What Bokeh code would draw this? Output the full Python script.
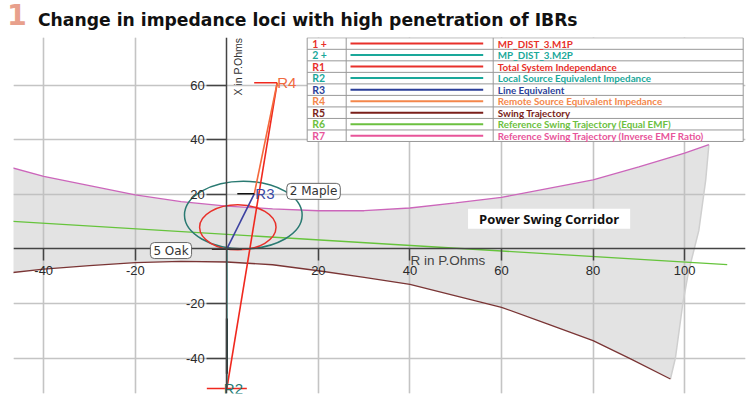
import math
from bokeh.plotting import figure
from bokeh.layouts import column
from bokeh.models import LinearAxis, FixedTicker, Label, Grid, Div
from bokeh.embed import file_html
from bokeh.resources import INLINE
from bokeh.core.properties import value

# ---------------- data ----------------
title_num = "1"
title_text = "Change in impedance loci with high penetration of IBRs"

x_ticks = [-40, -20, 20, 40, 60, 80, 100]
y_ticks = [-40, -20, 20, 40, 60]

# R7 - reference swing trajectory (inverse EMF ratio), upper corridor edge
r7_R = [-47, -40, -30, -20, -10, 0, 10, 20, 30, 40, 50, 60, 70, 80, 90, 100, 105.3]
r7_X = [29.8, 26.6, 23.2, 19.8, 17.3, 15.7, 14.7, 14.0, 14.0, 15.0, 16.9, 18.9, 22.1, 25.3, 30.1, 35.1, 38.2]

# R5 - swing trajectory, lower corridor edge
r5_R = [-47, -40, -30, -20, -10, 0, 10, 20, 30, 40, 50, 60, 70, 80, 88.2, 96.9]
r5_X = [-8.7, -7.4, -6.1, -5.0, -4.6, -4.8, -5.8, -8.0, -10.4, -13.0, -17.2, -21.4, -27.5, -33.6, -40.3, -47.7]

# right closing edge of the corridor (top -> bottom)
edge_R = [105.3, 104.6, 103.1, 100.9, 99.6, 98.0, 96.9]
edge_X = [38.2, 25.1, 6.7, -8.0, -20.1, -39.9, -47.7]

# R6 - reference swing trajectory (equal EMF)
r6_R = [-47, 109.3]
r6_X = [10.1, -5.76]

# zone circles (MP_DIST_3.M1P / M2P): centre R, centre X, width, height
m1_R, m1_X, m1_w, m1_h = 2.4, 7.9, 16.7, 16.5
m2_R, m2_X, m2_w, m2_h = 3.6, 12.4, 25.7, 24.8

# impedance points
origin = (0.0, 0.0)
R2_pt = (0.0, -51.2)
R3_pt = (6.0, 20.2)
R4_pt = (11.0, 60.9)
zone_seg_X = [-25.5, -45.8]

corridor_label = (70.4, 11.1)
maple_pt = (13.1, 21.1)
oak_pt = (-16.7, -0.6)

leg_codes = ["1 +", "2 +", "R1", "R2", "R3", "R4", "R5", "R6", "R7"]
leg_labels = ["MP_DIST_3.M1P", "MP_DIST_3.M2P", "Total System Independance",
              "Local Source Equivalent Impedance", "Line Equivalent",
              "Remote Source Equivalent Impedance", "Swing Trajectory",
              "Reference Swing Trajectory (Equal EMF)",
              "Reference Swing Trajectory (Inverse EMF Ratio)"]
leg_colors = ["#e8302a", "#1aa89a", "#e8302a", "#1aa89a", "#2b3f99",
              "#f4874b", "#7a1f1a", "#6cc040", "#e8559a"]

# ---------------- layout helpers (page px -> data) ----------------
X0, X1 = -46.6, 113.3
Y0, Y1 = -53.0, 77.5
FL, FR, FT, FB = 13, 745, 37, 393
HEAD = 30


def dx(px):
    return X0 + (px - FL) * (X1 - X0) / (FR - FL)


def dy(py):
    return Y1 - (py - FT) * (Y1 - Y0) / (FB - FT)


head = Div(width=753, height=HEAD, margin=(0, 0, 0, 0), text=(
    '<div style="position:relative;width:753px;height:30px;font-family:\'DejaVu Sans\';font-weight:bold;">'
    f'<span style="position:absolute;left:7px;top:2px;font-size:28.5px;line-height:1;color:#e8a08c;">{title_num}</span>'
    f'<span style="position:absolute;left:38px;top:11.5px;font-size:17.2px;line-height:1;color:#111;white-space:nowrap;">{title_text}</span>'
    '</div>'))

p = figure(width=753, height=412 - HEAD, x_range=(X0, X1), y_range=(Y0, Y1),
           output_backend="svg", toolbar_location=None,
           x_axis_location=None, y_axis_location=None,
           min_border_left=FL, min_border_right=753 - FR,
           min_border_top=FT - HEAD, min_border_bottom=412 - FB)
p.outline_line_color = None
p.background_fill_color = "white"

for dim, ticks in ((0, x_ticks), (1, y_ticks)):
    g = Grid(dimension=dim, ticker=FixedTicker(ticks=ticks))
    g.grid_line_color = "#c4c4c4"
    g.grid_line_width = 1.6
    p.add_layout(g)

xaxis = LinearAxis(fixed_location=0, ticker=FixedTicker(ticks=x_ticks))
yaxis = LinearAxis(fixed_location=0, ticker=FixedTicker(ticks=y_ticks))
for ax, ticks in ((xaxis, x_ticks), (yaxis, y_ticks)):
    ax.axis_line_color = "#444444"
    ax.axis_line_width = 1.5
    ax.major_tick_line_color = "#444444"
    ax.major_tick_line_width = 1.5
    ax.major_tick_in = 0
    ax.major_label_text_font = "Liberation Sans"
    ax.major_label_text_font_size = "13px"
    ax.major_label_text_color = "#2a2a2a"
    ax.major_label_overrides = {t: str(t) for t in ticks}
xaxis.major_tick_out = 12
xaxis.major_label_standoff = 5
yaxis.major_tick_out = 20
yaxis.major_label_standoff = 2
p.add_layout(xaxis, "below")
p.add_layout(yaxis, "left")

# corridor fill
poly_R = r7_R + edge_R[1:] + r5_R[::-1][1:]
poly_X = r7_X + edge_X[1:] + r5_X[::-1][1:]
p.patch(poly_R, poly_X, fill_color="#bdbdbd", fill_alpha=0.42, line_color=None)
p.line(edge_R, edge_X, line_color="#cfcfcf", line_width=1.5)

p.line(r7_R, r7_X, line_color="#cc66bb", line_width=1.3)
p.line(r5_R, r5_X, line_color="#7a3535", line_width=1.3)
p.line(r6_R, r6_X, line_color="#66c43c", line_width=1.3)

p.ellipse(x=[m2_R], y=[m2_X], width=[m2_w], height=[m2_h], fill_color=None,
          line_color="#2a7a72", line_width=1.5)
p.ellipse(x=[m1_R], y=[m1_X], width=[m1_w], height=[m1_h], fill_color=None,
          line_color="#e8302a", line_width=1.5)

# impedance lines
p.line([R2_pt[0], R4_pt[0]], [R2_pt[1], R4_pt[1]], line_color="#f0281e", line_width=1.6)
p.line([R3_pt[0], R4_pt[0]], [R3_pt[1], R4_pt[1]], line_color="#f4693c", line_width=1.6)
p.line([origin[0], R3_pt[0]], [origin[1], R3_pt[1]], line_color="#3b40a0", line_width=1.6)
p.line([origin[0], R2_pt[0]], [origin[1], R2_pt[1]], line_color="#1f7a74", line_width=1.6)
p.line([R2_pt[0], R2_pt[0]], zone_seg_X, line_color="#1a2a2a", line_width=2)

# point markers
p.ray(x=[R4_pt[0]], y=[R4_pt[1]], length=23, length_units="screen", angle=math.pi,
      line_color="#f0281e", line_width=1.5)
p.ray(x=[R3_pt[0]], y=[R3_pt[1]], length=17, length_units="screen", angle=math.pi,
      line_color="#111111", line_width=1.5)
p.scatter(x=[R2_pt[0]], y=[R2_pt[1]], marker="dash", size=40, line_color="#f0281e", line_width=1.5)
p.scatter(x=[origin[0]], y=[origin[1]], marker="dash", size=30, line_color="#3a2a2a", line_width=2)

p.text(x=[R4_pt[0]], y=[R4_pt[1]], text=["R4"], text_color="#f06a40", text_font=value("Liberation Sans"),
       text_font_size="15px", text_baseline="middle", x_offset=0)
p.text(x=[R3_pt[0]], y=[R3_pt[1]], text=["R3"], text_color="#3b4ba6", text_font=value("Liberation Sans"),
       text_font_size="15px", text_baseline="middle", x_offset=1)
p.text(x=[R2_pt[0]], y=[R2_pt[1]], text=["R2"], text_color="#1f7a74", text_font=value("Liberation Sans"),
       text_font_size="15px", text_baseline="middle", x_offset=-3)

# boxed labels
for (lx, ly), txt in ((maple_pt, "2 Maple"), (oak_pt, "5 Oak")):
    p.add_layout(Label(x=lx, y=ly, text=txt, text_baseline="middle", text_align="left",
                       text_font="DejaVu Sans", text_font_size="12px", text_color="#333333",
                       background_fill_color="white", border_line_color="#666666",
                       border_line_width=1, padding=(3, 1), border_radius=4))

p.add_layout(Label(x=corridor_label[0], y=corridor_label[1], text="Power Swing Corridor",
                   text_align="center", text_baseline="middle", text_font="Open Sans",
                   text_font_style="bold", text_font_size="13px", text_color="#111111",
                   background_fill_color="white", padding=(11, 1)))

# axis titles
p.add_layout(Label(x=dx(231.5), y=dy(37.5), text="X in P.Ohms", angle=math.pi / 2,
                   text_align="right", text_baseline="top", text_font="Liberation Sans",
                   text_font_size="10.5px", text_color="#333333"))
p.add_layout(Label(x=dx(410), y=dy(252), text="R in P.Ohms", text_align="left",
                   text_baseline="top", text_font="Liberation Sans",
                   text_font_size="13.5px", text_color="#444444"))

# legend table
tl, tr, tt = 306.7, 742.7, 37.3
rh = 11.52
tb = tt + rh * len(leg_codes)
p.quad(left=[dx(tl)], right=[dx(tr)], top=[dy(tt)], bottom=[dy(tb)],
       fill_color="white", line_color="#999999", line_width=1)
sep_y = [dy(tt + rh * i) for i in range(1, len(leg_codes))]
p.segment(x0=[dx(tl)] * len(sep_y), y0=sep_y, x1=[dx(tr)] * len(sep_y), y1=sep_y,
          line_color="#999999", line_width=1)
p.segment(x0=[dx(345.7), dx(492.7)], y0=[dy(tt)] * 2, x1=[dx(345.7), dx(492.7)], y1=[dy(tb)] * 2,
          line_color="#999999", line_width=1)
row_y = [dy(tt + rh * (i + 0.5)) for i in range(len(leg_codes))]
p.segment(x0=[dx(350)] * len(row_y), y0=row_y, x1=[dx(482.7)] * len(row_y), y1=row_y,
          line_color=leg_colors, line_width=2)
p.text(x=[dx(311.7)] * len(row_y), y=row_y, text=leg_codes, text_color=leg_colors,
       text_font=value("Lato"), text_font_style="bold", text_font_size="10.5px",
       text_baseline="middle")
p.text(x=[dx(497.3)] * len(row_y), y=row_y, text=leg_labels, text_color=leg_colors,
       text_font=value("Lato"), text_font_style="bold", text_font_size="9.8px",
       text_baseline="middle")

layout = column(head, p, spacing=0)
open("out.html", "w").write(file_html(layout, INLINE))
